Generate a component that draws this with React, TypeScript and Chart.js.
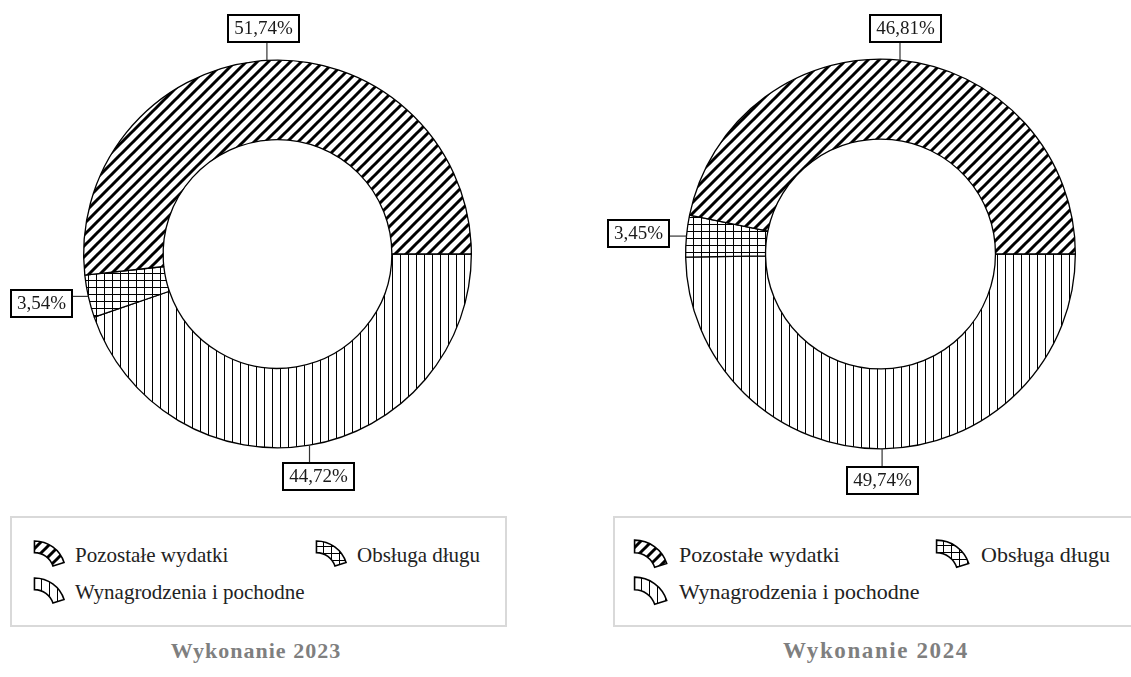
import React, { useEffect, useRef } from 'react';
import { Chart, registerables } from 'chart.js';

Chart.register(...registerables);

// ---- data ----
const CATEGORIES = ['Wynagrodzenia i pochodne', 'Obsługa długu', 'Pozostałe wydatki'];
const VALUES_2023 = [44.72, 3.54, 51.74];
const VALUES_2024 = [49.74, 3.45, 46.81];
const TITLES = ['Wykonanie 2023', 'Wykonanie 2024'];
// legend items: [category index, column, row]
const LEGEND_ITEMS = [
  [2, 0, 0],
  [1, 1, 0],
  [0, 0, 1],
];
const PATTERN_KIND = ['vertical', 'grid', 'diagonal'];

// ---- layout ----
const CANVAS_H = 515;
const PANELS = [
  {
    values: VALUES_2023, title: TITLES[0],
    cx: 277.5, cy: 254, r: 194,
    canvasLeft: 0, canvasWidth: 565,
    box: { left: 10, top: 516, width: 497, height: 111 },
    iconX: [23, 305], textGap: 42, fontSize: 21,
    titleX: 256, titleSize: 22, titleSpacing: 1,
  },
  {
    values: VALUES_2024, title: TITLES[1],
    cx: 880.5, cy: 254, r: 195,
    canvasLeft: 565, canvasWidth: 566,
    box: { left: 613, top: 516, width: 530, height: 111 },
    iconX: [20, 322], textGap: 46, fontSize: 22,
    titleX: 876, titleSize: 23, titleSpacing: 1.6,
  },
];
const ROW_CENTERS = [39, 76];

function makeTile(kind: string): HTMLCanvasElement {
  const c = document.createElement('canvas');
  let w = 8, h = 8;
  if (kind === 'diagonal') { w = 11; h = 11; }
  if (kind === 'grid') { w = 8; h = 7; }
  c.width = w; c.height = h;
  const g = c.getContext('2d')!;
  g.fillStyle = '#fff';
  g.fillRect(0, 0, w, h);
  g.fillStyle = '#000';
  g.strokeStyle = '#000';
  if (kind === 'diagonal') {
    g.lineWidth = 3;
    g.beginPath();
    for (const o of [-w, 0, w]) {
      g.moveTo(o - 1, h + 1);
      g.lineTo(o + w + 1, -1);
    }
    g.stroke();
  } else if (kind === 'vertical') {
    g.fillRect(0, 0, 1, h);
  } else {
    g.fillRect(0, 0, 1, h);
    g.fillRect(0, 0, w, 1);
  }
  return c;
}

function fmt(v: number) {
  return v.toFixed(2).replace('.', ',') + '%';
}

const labelPlugin = {
  id: 'boxLabels',
  afterDatasetsDraw(chart: any) {
    const ctx = chart.ctx as CanvasRenderingContext2D;
    const meta = chart.getDatasetMeta(0);
    const data = chart.data.datasets[0].data as number[];
    ctx.save();
    ctx.font = '19px "Liberation Serif", serif';
    meta.data.forEach((arc: any, i: number) => {
      const p = arc.getProps(['x', 'y', 'startAngle', 'endAngle', 'outerRadius'], true);
      const mid = (p.startAngle + p.endAngle) / 2;
      const dx = Math.cos(mid), dy = Math.sin(mid);
      const px = p.x + dx * p.outerRadius;
      const py = p.y + dy * p.outerRadius;
      const text = fmt(data[i]);
      const w = Math.round(ctx.measureText(text).width + 12);
      const h = 27;
      const gap = 18;
      const cx = px + dx * (gap + w / 2);
      const cy = py + dy * (gap + h / 2);
      const left = Math.round(cx - w / 2);
      const top = Math.round(cy - h / 2);
      // leader line
      const nx = Math.min(Math.max(px, left), left + w);
      const ny = Math.min(Math.max(py, top), top + h);
      ctx.strokeStyle = '#333';
      ctx.lineWidth = 1.2;
      ctx.beginPath();
      ctx.moveTo(px, py);
      ctx.lineTo(nx, ny);
      ctx.stroke();
      // box
      ctx.fillStyle = '#fff';
      ctx.fillRect(left, top, w, h);
      ctx.strokeStyle = '#000';
      ctx.lineWidth = 2;
      ctx.strokeRect(left, top, w, h);
      ctx.fillStyle = '#1a1a1a';
      ctx.textAlign = 'center';
      ctx.textBaseline = 'middle';
      ctx.fillText(text, left + w / 2, top + h / 2 + 1);
    });
    ctx.restore();
  },
};

function DonutPanel({ panel }: { panel: any }) {
  const ref = useRef<HTMLCanvasElement>(null);
  useEffect(() => {
    const canvas = ref.current!;
    const ctx = canvas.getContext('2d')!;
    const fills = PATTERN_KIND.map((k) => ctx.createPattern(makeTile(k), 'repeat'));
    const S = 2 * panel.r + 1;
    const left = panel.cx - panel.canvasLeft - S / 2;
    const top = panel.cy - S / 2;
    const chart = new Chart(canvas, {
      type: 'doughnut',
      data: {
        labels: CATEGORIES,
        datasets: [{
          data: panel.values,
          backgroundColor: fills as any,
          borderColor: '#000',
          borderWidth: 1.3,
        }],
      },
      options: {
        responsive: false,
        animation: false,
        rotation: 90,
        cutout: '59%',
        layout: {
          padding: {
            left,
            right: panel.canvasWidth - left - S,
            top,
            bottom: CANVAS_H - top - S,
          },
        },
        plugins: {
          legend: { display: false },
          tooltip: { enabled: false },
        },
      } as any,
      plugins: [labelPlugin as any],
    });
    return () => chart.destroy();
  }, [panel]);
  return (
    <canvas
      ref={ref}
      width={panel.canvasWidth}
      height={CANVAS_H}
      style={{ position: 'absolute', left: panel.canvasLeft, top: 0 }}
    />
  );
}

function LegendIcon({ kind, size }: { kind: string; size: number }) {
  const ref = useRef<HTMLCanvasElement>(null);
  useEffect(() => {
    const c = ref.current!;
    const g = c.getContext('2d')!;
    g.clearRect(0, 0, c.width, c.height);
    const pat = g.createPattern(makeTile(kind), 'repeat');
    const k = size / 36;
    const ox = 1.5 * k, oy = 34 * k, R = 32 * k, r = 20 * k;
    const a0 = (-90 * Math.PI) / 180, a1 = (-18 * Math.PI) / 180;
    g.beginPath();
    g.arc(ox, oy, R, a0, a1);
    g.arc(ox, oy, r, a1, a0, true);
    g.closePath();
    g.fillStyle = pat as any;
    g.fill();
    g.lineWidth = 1.6;
    g.strokeStyle = '#000';
    g.stroke();
  }, [kind, size]);
  return <canvas ref={ref} width={size} height={Math.round(size * 0.9)} />;
}

function Legend({ panel }: { panel: any }) {
  const iconSize = panel.fontSize >= 22 ? 38 : 35;
  return (
    <div
      style={{
        position: 'absolute',
        left: panel.box.left,
        top: panel.box.top,
        width: panel.box.width,
        height: panel.box.height,
        border: '2px solid #d9d9d9',
        boxSizing: 'border-box',
        background: '#fff',
      }}
    >
      {LEGEND_ITEMS.map(([ci, col, row]) => (
        <div
          key={ci}
          style={{
            position: 'absolute',
            left: panel.iconX[col] - 2,
            top: ROW_CENTERS[row] - 18 - 2,
            height: 36,
            display: 'flex',
            alignItems: 'center',
            whiteSpace: 'nowrap',
          }}
        >
          <LegendIcon kind={PATTERN_KIND[ci]} size={iconSize} />
          <span
            style={{
              position: 'absolute',
              left: panel.textGap,
              fontFamily: '"Liberation Serif", serif',
              fontSize: panel.fontSize,
              color: '#222',
              lineHeight: '36px',
              top: 0,
            }}
          >
            {CATEGORIES[ci]}
          </span>
        </div>
      ))}
    </div>
  );
}

export default function App() {
  useEffect(() => {
    document.body.style.margin = '0';
  }, []);
  return (
    <div style={{ position: 'relative', width: 1131, height: 677, overflow: 'hidden', background: '#fff' }}>
      {PANELS.map((p, i) => (
        <React.Fragment key={i}>
          <DonutPanel panel={p} />
          <Legend panel={p} />
          <div
            style={{
              position: 'absolute',
              left: p.titleX - 150,
              width: 300,
              top: 651 - 15,
              height: 30,
              lineHeight: '30px',
              textAlign: 'center',
              fontFamily: '"Liberation Serif", serif',
              fontWeight: 'bold',
              fontSize: p.titleSize,
              letterSpacing: p.titleSpacing,
              color: '#7f7f7f',
            }}
          >
            {p.title}
          </div>
        </React.Fragment>
      ))}
    </div>
  );
}
